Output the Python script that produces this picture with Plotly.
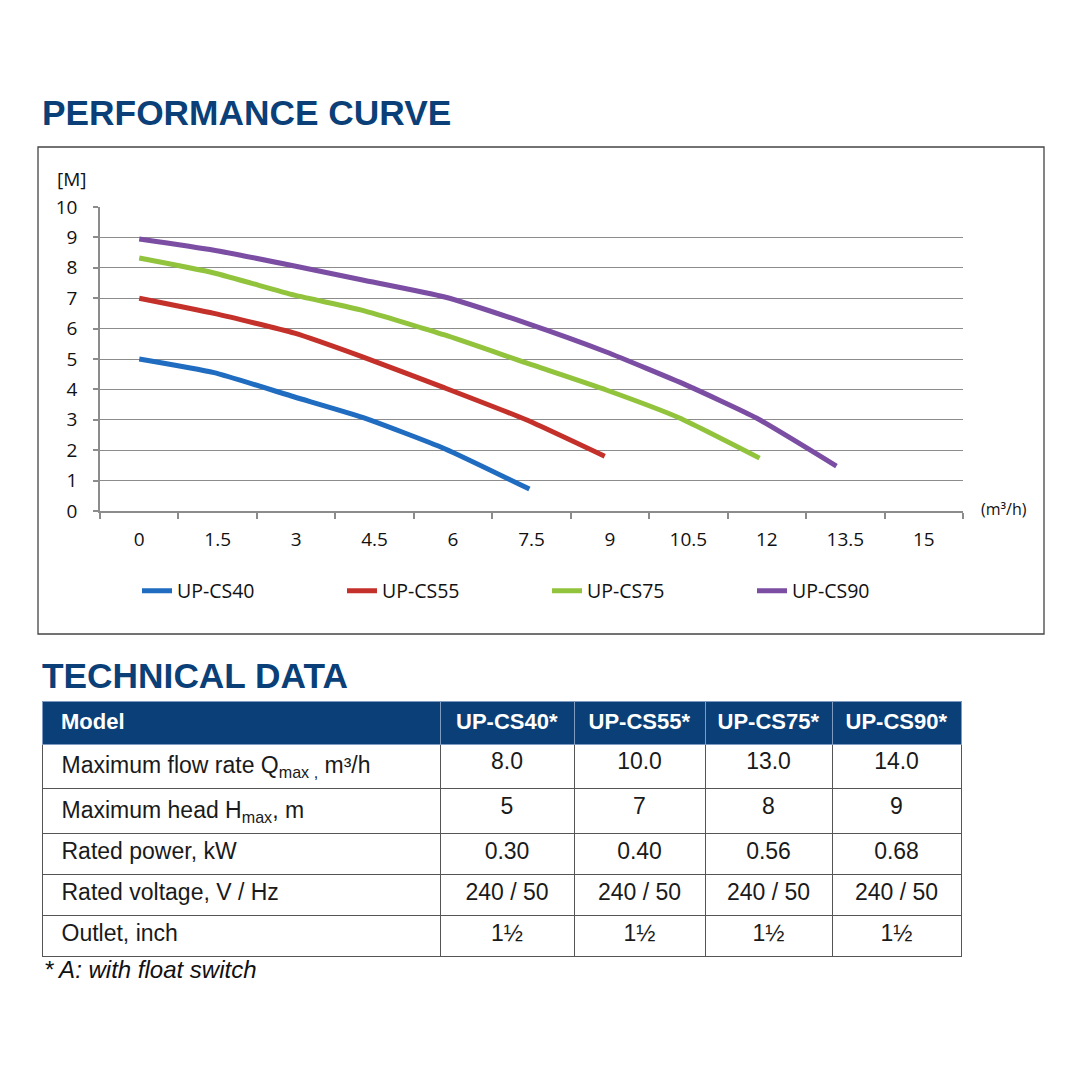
import plotly.graph_objects as go

# Performance curves (flow m3/h, head m)
cs40_q = [0, 1.43, 2.97, 4.27, 5.84, 7.46]
cs40_h = [5.0, 4.55, 3.75, 3.08, 2.05, 0.72]

cs55_q = [0, 1.43, 2.97, 4.27, 5.84, 7.40, 8.90]
cs55_h = [7.0, 6.5, 5.85, 5.07, 4.05, 3.0, 1.8]

cs75_q = [0, 1.43, 2.97, 4.27, 5.84, 7.40, 8.93, 10.33, 11.86]
cs75_h = [8.32, 7.83, 7.1, 6.6, 5.79, 4.87, 3.98, 3.06, 1.74]

cs90_q = [0, 1.43, 2.97, 4.27, 5.84, 7.40, 8.93, 10.46, 11.80, 13.33]
cs90_h = [8.95, 8.58, 8.06, 7.6, 7.04, 6.18, 5.23, 4.14, 3.06, 1.48]

series_names = ["UP-CS40", "UP-CS55", "UP-CS75", "UP-CS90"]
series_colors = ["#1f6cc0", "#c4302a", "#92c33c", "#7b4ea3"]

x_ticks = [0, 1.5, 3, 4.5, 6, 7.5, 9, 10.5, 12, 13.5, 15]
x_tick_labels = ["0", "1.5", "3", "4.5", "6", "7.5", "9", "10.5", "12", "13.5", "15"]
y_ticks = list(range(0, 11))

# Technical data table
table_header = ["Model", "UP-CS40*", "UP-CS55*", "UP-CS75*", "UP-CS90*"]
row_labels = ["Maximum flow rate Q<sub>max ,</sub> m\u00b3/h", "Maximum head H<sub>max</sub>, m",
              "Rated power, kW", "Rated voltage, V / Hz", "Outlet, inch"]
cs40_spec = ["8.0", "5", "0.30", "240 / 50", "1\u00bd"]
cs55_spec = ["10.0", "7", "0.40", "240 / 50", "1\u00bd"]
cs75_spec = ["13.0", "8", "0.56", "240 / 50", "1\u00bd"]
cs90_spec = ["14.0", "9", "0.68", "240 / 50", "1\u00bd"]

NAVY = "#0b3f78"
GRID = "#8c8c8c"
W = 1080.0
OFF = 8  # the page body margin shifts the figure by 8px


def px(v):
    return (v - OFF) / W


def py(v):
    return 1 - (v - OFF) / W


fig = go.Figure()

curves = [(cs40_q, cs40_h), (cs55_q, cs55_h), (cs75_q, cs75_h), (cs90_q, cs90_h)]
for (q, h), name, color in zip(curves, series_names, series_colors):
    fig.add_trace(go.Scatter(
        x=q, y=h, mode="lines", name=name,
        line=dict(color=color, width=5, shape="spline", smoothing=0.5),
    ))

# boundaries between x labels get the small tick marks
x_bounds = [t - 0.75 for t in x_ticks] + [x_ticks[-1] + 0.75]

fig.add_trace(go.Table(
    domain=dict(x=[px(42), px(961)], y=[py(985), py(701)]),
    columnwidth=[398, 134, 131, 127, 129],
    header=dict(
        values=["<b>\u2002" + table_header[0] + "</b>"] + ["<b>" + h + "</b>" for h in table_header[1:]],
        fill_color=NAVY,
        line=dict(color="#7f9cc0", width=1),
        align=["left", "center"],
        font=dict(family="Liberation Sans, Arial", size=22, color="white"),
        height=43,
    ),
    cells=dict(
        values=[["\u2002" + r for r in row_labels], cs40_spec, cs55_spec, cs75_spec, cs90_spec],
        fill_color="white",
        line=dict(color="#555555", width=1),
        align=["left", "center"],
        font=dict(family="Liberation Sans, Arial", size=23, color="#1a1a1a"),
        height=41,
    ),
))

fig.update_layout(
    width=1080, height=1080,
    margin=dict(l=0, r=0, t=0, b=0, autoexpand=False),
    paper_bgcolor="white", plot_bgcolor="white",
    font=dict(family="Open Sans", size=19, color="#111111"),
    showlegend=True,
    legend=dict(
        orientation="h", x=px(137), xanchor="left", y=py(591), yanchor="middle",
        entrywidth=160, entrywidthmode="pixels",
        font=dict(family="Open Sans", size=19.5, color="#111111"),
        bgcolor="rgba(0,0,0,0)", tracegroupgap=0,
    ),
    xaxis=dict(
        domain=[px(100), px(963)],
        range=[-0.75, 15.75],
        tickmode="array", tickvals=x_ticks, ticktext=x_tick_labels,
        ticks="", ticklabelstandoff=10,
        showline=True, linecolor=GRID, linewidth=1.5,
        showgrid=False, zeroline=False,
        minor=dict(tickmode="array", tickvals=x_bounds, ticks="outside",
                   ticklen=6, tickwidth=1.5, tickcolor=GRID, showgrid=False),
        fixedrange=True,
    ),
    yaxis=dict(
        domain=[py(511), py(207)],
        range=[0, 10],
        tickmode="array", tickvals=y_ticks,
        ticks="outside", ticklen=5, tickwidth=1.5, tickcolor=GRID,
        ticklabelstandoff=12,
        showline=True, linecolor=GRID, linewidth=1.5,
        showgrid=True, gridcolor=GRID, gridwidth=1.3,
        zeroline=False,
        fixedrange=True,
    ),
    shapes=[
        dict(type="rect", xref="paper", yref="paper",
             x0=px(38), x1=px(1044), y0=py(634), y1=py(147),
             line=dict(color="#444444", width=1.3), fillcolor="rgba(0,0,0,0)", layer="below"),
    ],
    annotations=[
        dict(text="<b>PERFORMANCE CURVE</b>", xref="paper", yref="paper",
             x=px(40), y=py(113), xanchor="left", yanchor="middle", showarrow=False,
             font=dict(family="Liberation Sans, Arial", size=35.3, color=NAVY)),
        dict(text="<b>TECHNICAL DATA</b>", xref="paper", yref="paper",
             x=px(40), y=py(675), xanchor="left", yanchor="middle", showarrow=False,
             font=dict(family="Liberation Sans, Arial", size=35.3, color=NAVY)),
        dict(text="[M]", xref="paper", yref="paper",
             x=px(55), y=py(179), xanchor="left", yanchor="middle", showarrow=False,
             font=dict(family="Open Sans", size=19, color="#111111")),
        dict(text="(m\u00b3/h)", xref="paper", yref="paper",
             x=px(979), y=py(509), xanchor="left", yanchor="middle", showarrow=False,
             font=dict(family="Open Sans", size=16, color="#111111")),
        dict(text="<i>* A: with float switch</i>", xref="paper", yref="paper",
             x=px(42), y=py(969), xanchor="left", yanchor="middle", showarrow=False,
             font=dict(family="Liberation Sans, Arial", size=24, color="#111111")),
    ],
)

fig.write_html("out.html")
